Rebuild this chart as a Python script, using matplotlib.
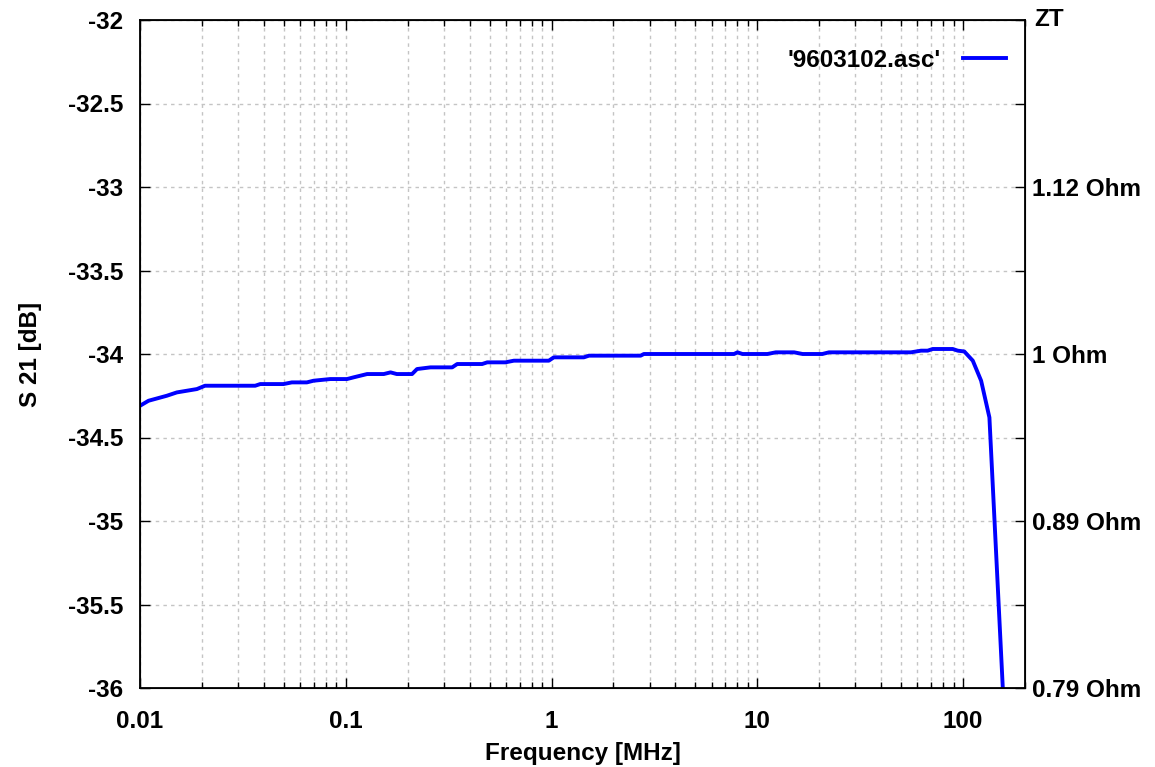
import matplotlib
matplotlib.use("Agg")
import matplotlib.pyplot as plt
from matplotlib.ticker import LogLocator, FixedLocator, NullFormatter

freq = [0.01, 0.0110, 0.0135, 0.0151, 0.0189, 0.0207, 0.0363, 0.0384, 0.0498, 0.0547,
        0.0647, 0.0697, 0.0841, 0.1014, 0.109, 0.127, 0.153, 0.165, 0.177, 0.210,
        0.222, 0.258, 0.329, 0.348, 0.460, 0.487, 0.597, 0.656, 0.970, 1.026,
        1.436, 1.52, 2.71, 2.81, 7.71, 8.01, 8.47, 11.2, 12.3, 15.1,
        16.6, 20.7, 22.3, 55.8, 62.5, 67.3, 71.2, 89.1, 94.2, 101.4,
        111.5, 122.4, 134.3, 156.0]
s21 = [-34.31, -34.28, -34.25, -34.23, -34.21, -34.19, -34.19, -34.18, -34.18, -34.17,
       -34.17, -34.16, -34.15, -34.15, -34.14, -34.12, -34.12, -34.11, -34.12, -34.12,
       -34.09, -34.08, -34.08, -34.06, -34.06, -34.05, -34.05, -34.04, -34.04, -34.02,
       -34.02, -34.01, -34.01, -34.00, -34.00, -33.99, -34.00, -34.00, -33.99, -33.99,
       -34.00, -34.00, -33.99, -33.99, -33.98, -33.98, -33.97, -33.97, -33.98, -33.985,
       -34.04, -34.16, -34.38, -36.0]

series_label = "'9603102.asc'"
xticks = [0.01, 0.1, 1, 10, 100]
xticklabels = ["0.01", "0.1", "1", "10", "100"]
yticks = [-36, -35.5, -35, -34.5, -34, -33.5, -33, -32.5, -32]
yticklabels = ["-36", "-35.5", "-35", "-34.5", "-34", "-33.5", "-33", "-32.5", "-32"]
y2ticks = [-36, -35, -34, -33]
y2ticklabels = ["0.79 Ohm", "0.89 Ohm", "1 Ohm", "1.12 Ohm"]

plt.rcParams['font.family'] = ['Liberation Sans', 'DejaVu Sans']
plt.rcParams['font.weight'] = 'bold'
plt.rcParams['font.size'] = 17.5

fig = plt.figure(figsize=(11.55, 7.67), dpi=100)
ax = fig.add_axes([140/1155, 1 - 688/767, (1025-140)/1155, (688-20)/767])
ax.plot(freq, s21, color='#0000ff', lw=2.8, label=series_label, clip_on=True)
ax.set_xscale('log')
ax.set_xlim(0.01, 200)
ax.set_ylim(-36, -32)
ax.set_xticks(xticks)
ax.set_xticklabels(xticklabels)
ax.xaxis.set_minor_locator(LogLocator(base=10, subs=range(2, 10), numticks=20))
ax.xaxis.set_minor_formatter(NullFormatter())
ax.set_yticks(yticks)
ax.set_yticklabels(yticklabels)
ax.tick_params(which='major', direction='in', length=7, width=1, top=True, right=False)
ax.tick_params(which='minor', direction='in', length=4, width=1, top=True, right=False)
ax.tick_params(axis='y', pad=12)
ax.tick_params(axis='x', pad=16)
gridstyle = dict(color='#c4c4c4', linestyle=(0, (2.5, 3)), lw=1)
ax.grid(True, which='both', axis='x', **gridstyle)
ax.grid(True, which='major', axis='y', **gridstyle)
for sp in ax.spines.values():
    sp.set_linewidth(1.3)
ax.set_xlabel('Frequency [MHz]', fontweight='bold', labelpad=6)
ax.set_ylabel('S 21 [dB]', fontweight='bold', labelpad=19)

ax2 = ax.twinx()
ax2.set_ylim(-36, -32)
ax2.yaxis.set_major_locator(FixedLocator(yticks))
ax2.set_yticklabels(['' if t not in y2ticks else y2ticklabels[y2ticks.index(t)] for t in yticks])
ax2.tick_params(which='major', direction='in', length=7, width=1, pad=5)
ax2.text(1.011, 1.0, 'ZT', transform=ax2.transAxes, ha='left', va='center', fontweight='bold')

leg = ax.legend(loc='upper right', frameon=False, markerfirst=False, handlelength=1.75,
                bbox_to_anchor=(1.003, 0.99), handletextpad=0.95)

fig.savefig('out.png', dpi=100)
